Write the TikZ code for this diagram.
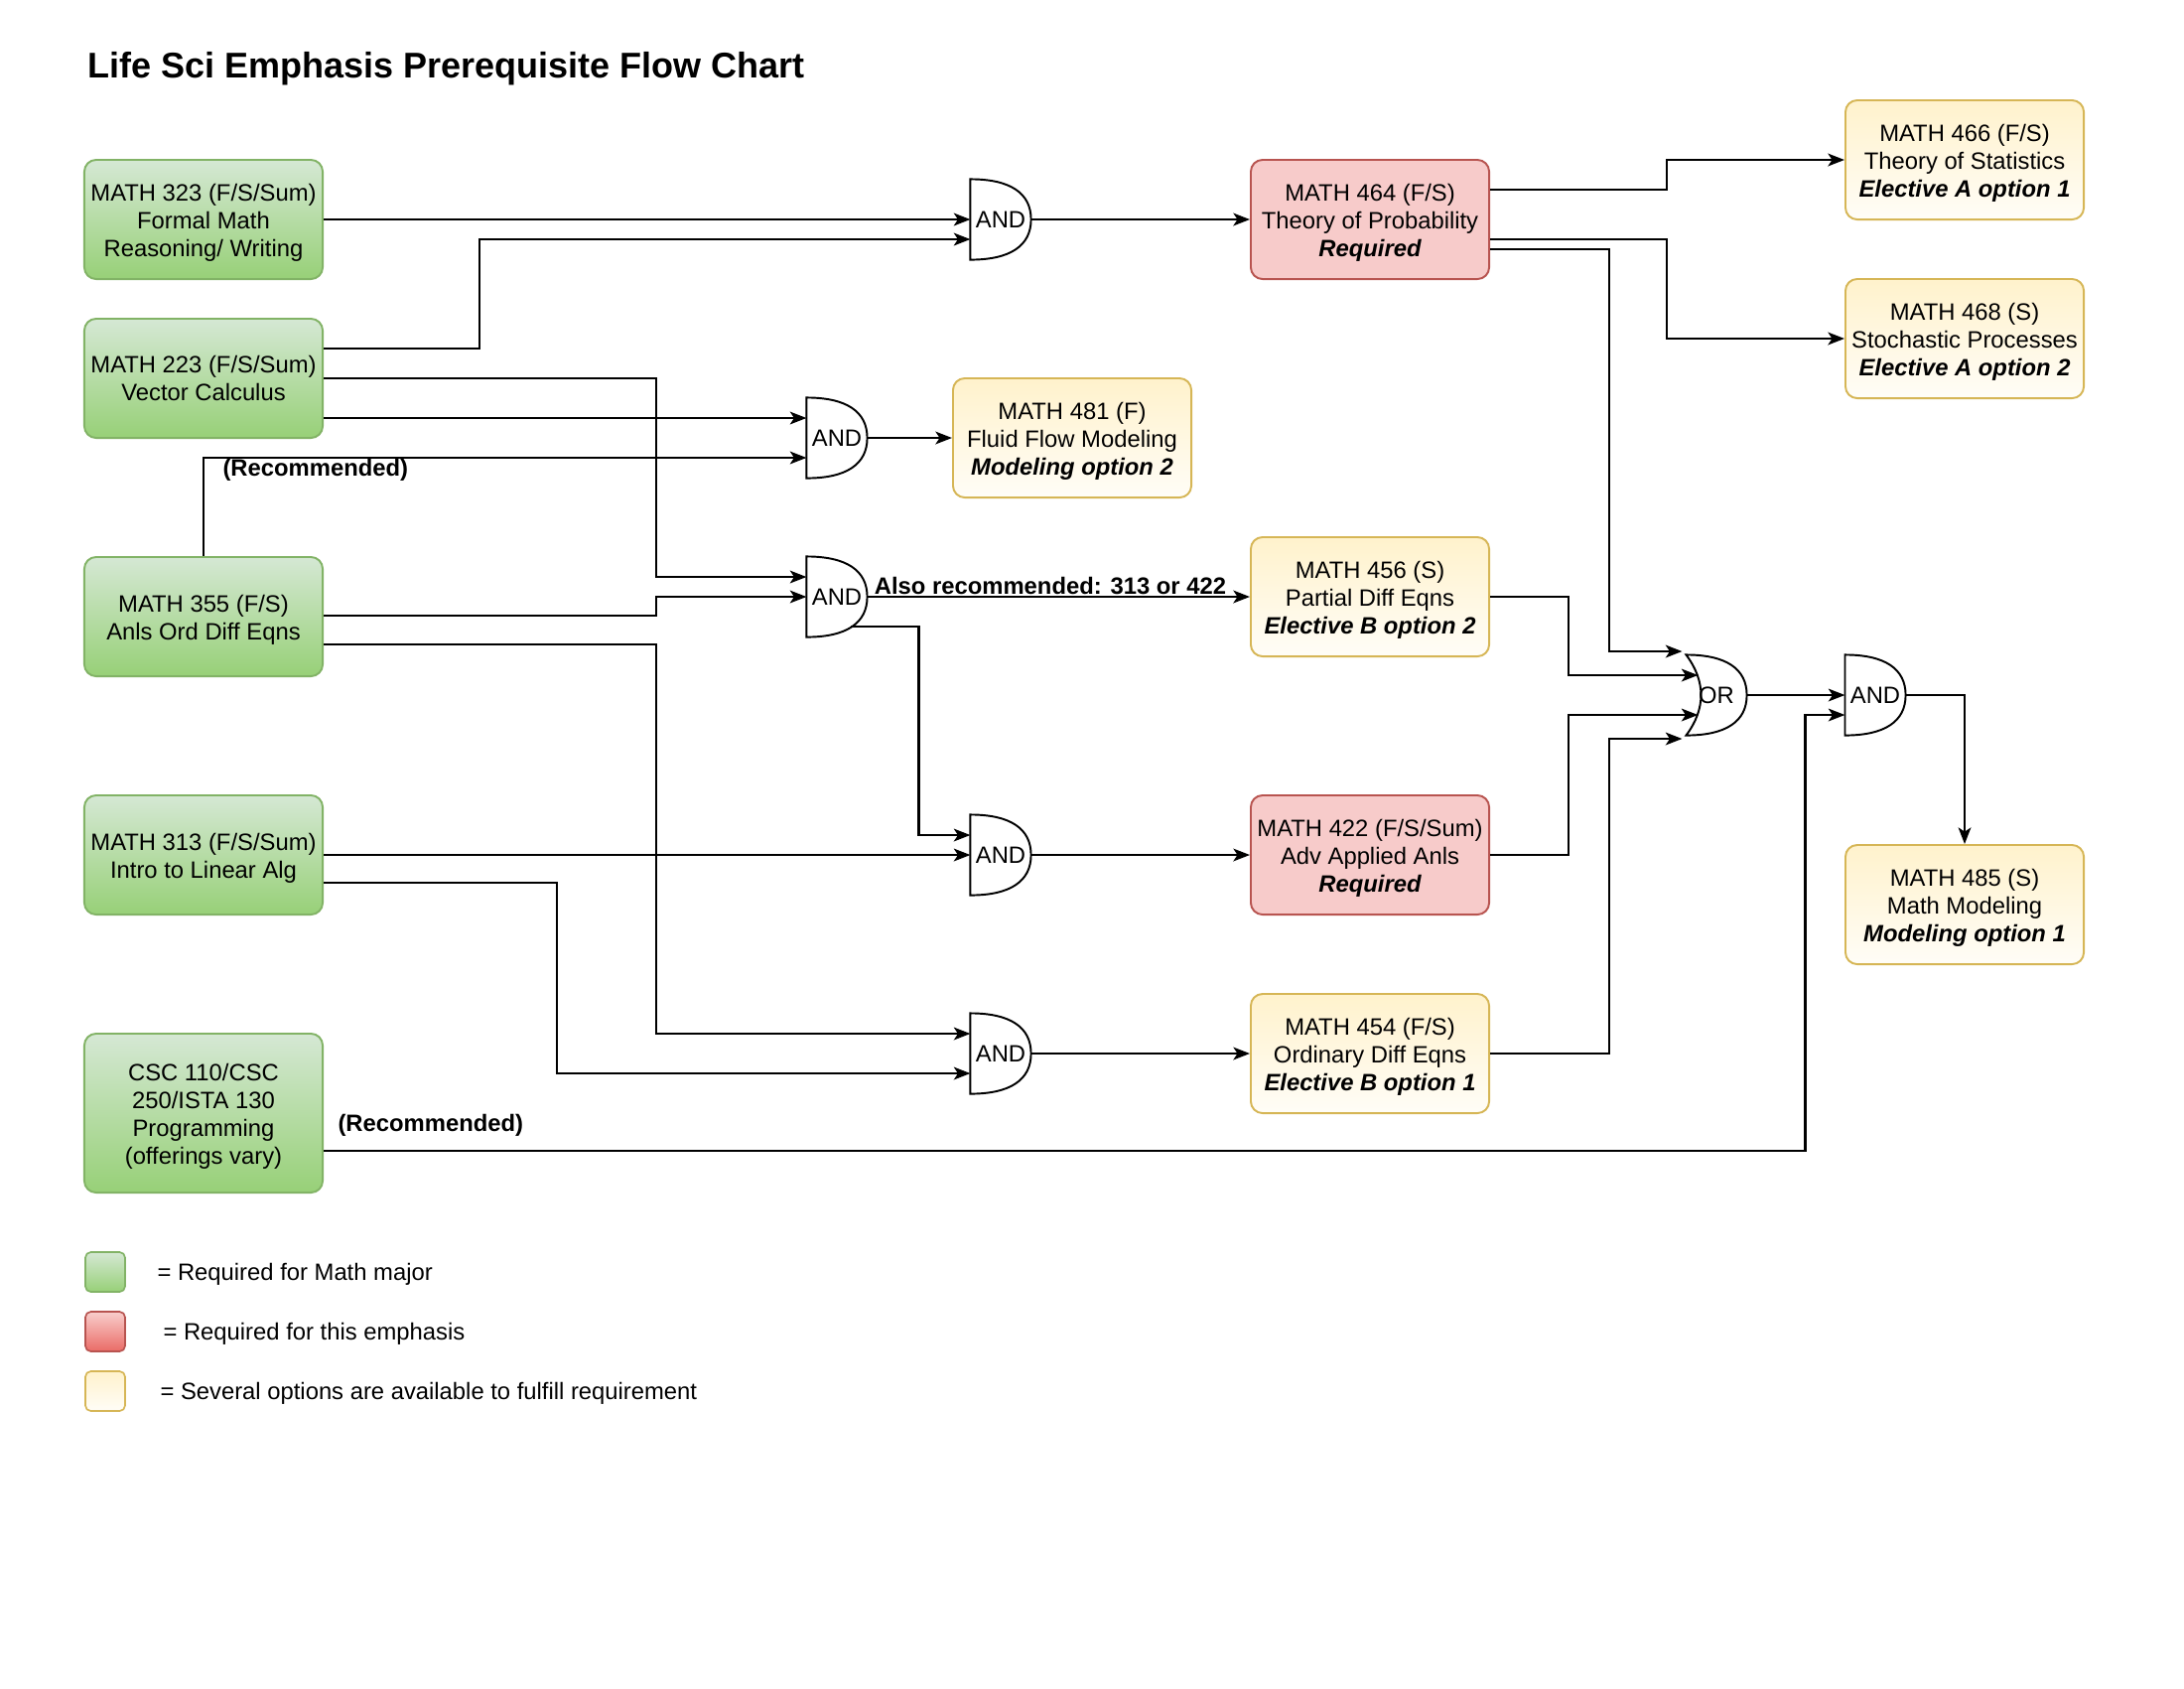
\documentclass[tikz,border=0pt]{standalone}
\usepackage{fontspec}
\setmainfont{Liberation Sans}
\usetikzlibrary{arrows.meta,calc}
\definecolor{gtop}{HTML}{D5E8D4}
\definecolor{gbot}{HTML}{97D077}
\definecolor{gstroke}{HTML}{82B366}
\definecolor{rfill}{HTML}{F7CBCA}
\definecolor{rtop}{HTML}{F8CECC}
\definecolor{rbot}{HTML}{EA6B66}
\definecolor{rstroke}{HTML}{B85450}
\definecolor{ytop}{HTML}{FFF2CC}
\definecolor{ybot}{HTML}{FFFDF7}
\definecolor{ystroke}{HTML}{D6B656}
\newcommand\boxfont{\fontsize{8.6}{10.1}\selectfont}
\newcommand\fs{\rule{0pt}{8.4pt}}
\newcommand\gateAND[1]{\draw[gateline] (#1.north west) .. controls ($(#1.north west)+(40,0)$) and ($(#1.east)+(0,-26.67)$) .. (#1.east) .. controls ($(#1.east)+(0,26.67)$) and ($(#1.south west)+(40,0)$) .. (#1.south west) -- cycle;}
\newcommand\gateOR[1]{\draw[gateline] (#1.north west) .. controls ($(#1.north west)+(40,0)$) and ($(#1.east)+(0,-26.67)$) .. (#1.east) .. controls ($(#1.east)+(0,26.67)$) and ($(#1.south west)+(40,0)$) .. (#1.south west) .. controls ($(#1.south west)+(20,-26.67)$) and ($(#1.north west)+(20,26.67)$) .. (#1.north west) -- cycle;}
\begin{document}
\begin{tikzpicture}[x=0.0127cm,y=-0.0127cm,
  cbox/.style={rounded corners=0.15cm, minimum width=3.048cm, minimum height=1.524cm,
    align=center, line width=0.7pt, font=\boxfont, inner sep=1pt},
  greenbox/.style={cbox, top color=gtop, bottom color=gbot, draw=gstroke},
  redbox/.style={cbox, fill=rfill, draw=rstroke},
  yelbox/.style={cbox, top color=ytop, bottom color=ybot, draw=ystroke},
  legsq/.style={rounded corners=0.07cm, minimum width=0.508cm, minimum height=0.508cm, line width=0.6pt, inner sep=0pt},
  gatenode/.style={minimum width=0.762cm, minimum height=1.016cm, inner sep=0pt, font=\boxfont},
  gateline/.style={line width=0.7pt},
  arr/.style={line width=0.8pt, -{Stealth[length=6pt,width=4.6pt,inset=1.5pt]}},
  lbl/.style={font=\boxfont\bfseries, inner sep=0pt},
  legtxt/.style={font=\boxfont, inner sep=0pt, anchor=west}]
\useasboundingbox (0,0) rectangle (2200,1700);

% title
\node[anchor=base west, inner sep=0pt, font=\fontsize{13}{15}\selectfont\bfseries] (title) at (88,78) {Life Sci Emphasis Prerequisite Flow Chart};

% left column
\node[greenbox] (m323) at (205,221) {\fs MATH 323 (F/S/Sum)\\Formal Math\\Reasoning/ Writing};
\node[greenbox] (m223) at (205,381) {MATH 223 (F/S/Sum)\\Vector Calculus};
\node[greenbox] (m355) at (205,621) {\fs MATH 355 (F/S)\\Anls Ord Diff Eqns};
\node[greenbox] (m313) at (205,861) {\fs MATH 313 (F/S/Sum)\\Intro to Linear Alg};
\node[greenbox, minimum height=2.032cm] (csc) at (205,1121) {\fs CSC 110/CSC\\250/ISTA 130\\Programming\\(offerings vary)};

% middle
\node[redbox] (m464) at (1380,221) {\fs MATH 464 (F/S)\\Theory of Probability\\{\bfseries\itshape Required}};
\node[yelbox] (m481) at (1080,441) {\fs MATH 481 (F)\\Fluid Flow Modeling\\{\bfseries\itshape Modeling option 2}};
\node[yelbox] (m456) at (1380,601) {\fs MATH 456 (S)\\Partial Diff Eqns\\{\bfseries\itshape Elective B option 2}};
\node[redbox] (m422) at (1380,861) {\fs MATH 422 (F/S/Sum)\\Adv Applied Anls\\{\bfseries\itshape Required}};
\node[yelbox] (m454) at (1380,1061) {\fs MATH 454 (F/S)\\Ordinary Diff Eqns\\{\bfseries\itshape Elective B option 1}};

% right
\node[yelbox] (m466) at (1979,161) {\fs MATH 466 (F/S)\\Theory of Statistics\\{\bfseries\itshape Elective A option 1}};
\node[yelbox] (m468) at (1979,341) {\fs MATH 468 (S)\\Stochastic Processes\\{\bfseries\itshape Elective A option 2}};
\node[yelbox] (m485) at (1979,911) {\fs MATH 485 (S)\\Math Modeling\\{\bfseries\itshape Modeling option 1}};

% gates
\node[gatenode] (g1) at (1008,221) {AND};
\node[gatenode] (g2) at (843,441) {AND};
\node[gatenode] (g3) at (843,601) {AND};
\node[gatenode] (g4) at (1008,861) {AND};
\node[gatenode] (g5) at (1008,1061) {AND};
\node[gatenode] (gor) at (1729,700) {OR};
\node[gatenode] (g6) at (1889,700) {AND};
\gateAND{g1}\gateAND{g2}\gateAND{g3}\gateAND{g4}\gateAND{g5}\gateAND{g6}
\gateOR{gor}

% connectors
\draw[arr] (m323.east) -- (g1.west);
\draw[arr] ($(m223.east)+(0,-30)$) -- ++(157,0) |- ($(g1.west)+(0,20)$);
\draw[arr] (m223.east) -- ++(335,0) |- ($(g3.west)+(0,-20)$);
\draw[arr] ($(m223.east)+(0,40)$) -- ($(g2.west)+(0,-20)$);
\draw[arr] (m355.north) |- ($(g2.west)+(0,20)$);
\node[lbl, anchor=base west] (rec1) at (224,479) {(Recommended)};
\draw[arr] ($(m355.east)+(0,-1)$) -- ++(335,0) |- (g3.west);
\draw[arr] ($(m355.east)+(0,28)$) -- ++(335,0) |- ($(g5.west)+(0,-20)$);
\draw[arr] ($(g3.west)+(45,30)$) -| ($(g4.west)+(-52,-20)$) -- ($(g4.west)+(0,-20)$);
\draw[arr] (m313.east) -- (g4.west);
\draw[arr] ($(m313.east)+(0,28)$) -- ++(235,0) |- ($(g5.west)+(0,20)$);
\draw[arr] ($(csc.east)+(0,38)$) -| ($(g6.west)+(-40,20)$) -- ($(g6.west)+(0,20)$);
\node[lbl, anchor=base west] (rec2) at (340,1139) {(Recommended)};

\draw[arr] (g1.east) -- (m464.west);
\draw[arr] (g2.east) -- (m481.west);
\draw[arr] (g3.east) -- (m456.west);
\node[lbl, anchor=base] (also) at (1058,598) {Also recommended: 313 or 422};
\draw[arr] (g4.east) -- (m422.west);
\draw[arr] (g5.east) -- (m454.west);

\draw[arr] ($(m464.east)+(0,-30)$) -- ++(178,0) |- (m466.west);
\draw[arr] ($(m464.east)+(0,20)$) -- ++(178,0) |- (m468.west);
\draw[arr] ($(m464.east)+(0,30)$) -- ++(120,0) |- ($(gor.west)+(-4,-44)$);
\draw[arr] (m456.east) -- ++(79,0) |- ($(gor.west)+(12,-20)$);
\draw[arr] (m422.east) -- ++(79,0) |- ($(gor.west)+(12,20)$);
\draw[arr] (m454.east) -- ++(120,0) |- ($(gor.west)+(-4,44)$);
\draw[arr] (gor.east) -- (g6.west);
\draw[arr] (g6.east) -| (m485.north);

% legend
\node[legsq, top color=gtop, bottom color=gbot, draw=gstroke] (lg) at (106,1281) {};
\node[legsq, top color=rtop, bottom color=rbot, draw=rstroke] (lr) at (106,1341) {};
\node[legsq, top color=ytop, bottom color=ybot, draw=ystroke] (ly) at (106,1401) {};
\node[legtxt] (tg) at (158,1283) {= Required for Math major};
\node[legtxt] (tr) at (164,1343) {= Required for this emphasis};
\node[legtxt] (ty) at (161,1403) {= Several options are available to fulfill requirement};
\end{tikzpicture}
\end{document}
